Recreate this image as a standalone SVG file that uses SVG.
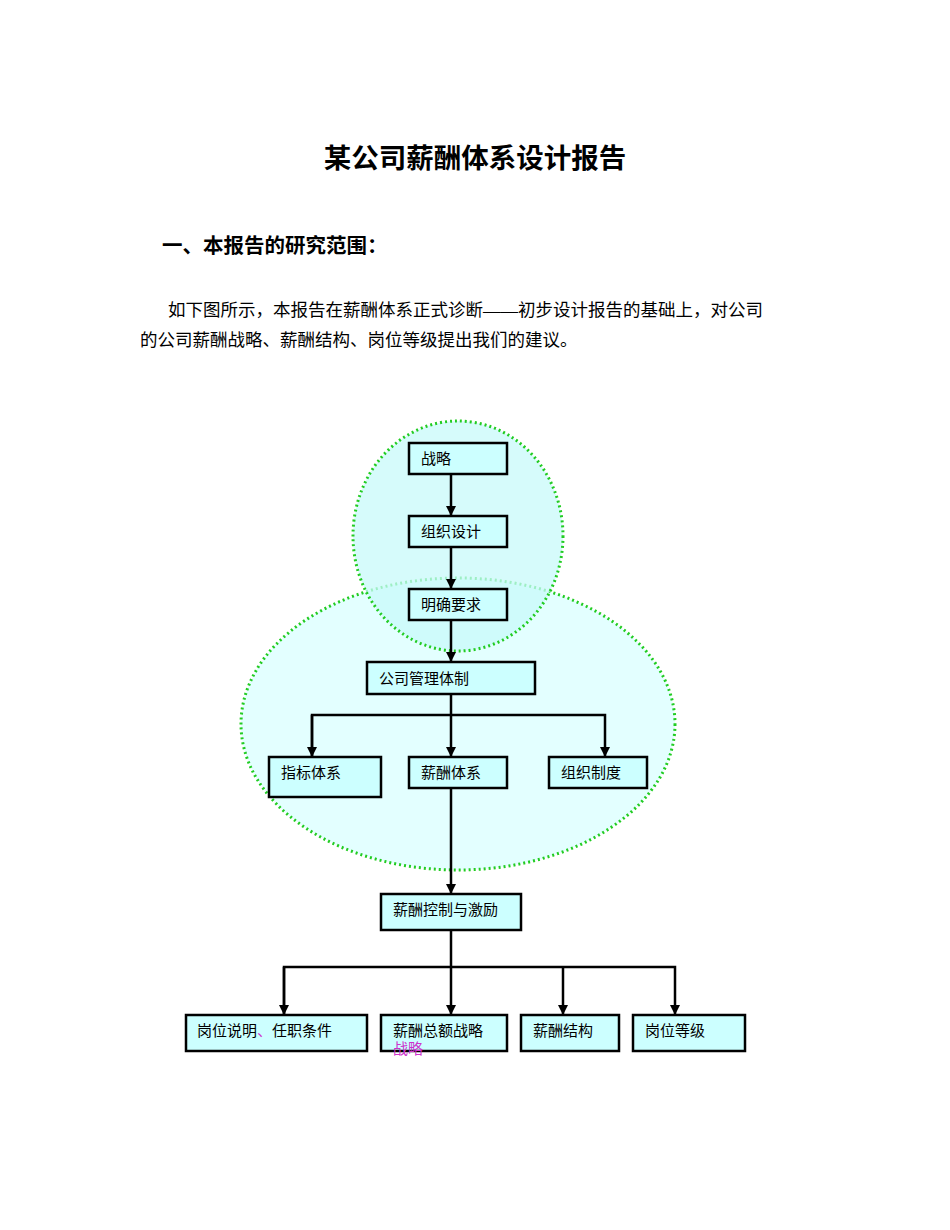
<svg xmlns="http://www.w3.org/2000/svg" width="950" height="1230" viewBox="0 0 950 1230">
<style>
text{font-family:"Liberation Serif","Noto Sans CJK SC",serif;fill:#000}
.b rect{fill:#ccffff;stroke:#000;stroke-width:2.5}
.b text{font-size:15px}
.c line,.c polyline{stroke:#000;stroke-width:2.5;fill:none}
.zone{stroke:#22cc22;stroke-width:3;stroke-dasharray:2 3}
</style>
<defs><marker id="a" viewBox="0 0 10 10" refX="9" refY="5" markerWidth="4" markerHeight="4" orient="auto"><path d="M0,0L10,5L0,10z" fill="#000"/></marker></defs>
<rect width="950" height="1230" fill="#fff"/>
<text x="475" y="168" font-size="27.5" font-weight="bold" text-anchor="middle">某公司薪酬体系设计报告</text>
<text x="162" y="253" font-size="20.5" font-weight="bold">一、本报告的研究范围：</text>
<text x="168" y="316" font-size="17.5">如下图所示，本报告在薪酬体系正式诊断——初步设计报告的基础上，对公司</text>
<text x="140" y="346" font-size="17.5">的公司薪酬战略、薪酬结构、岗位等级提出我们的建议。</text>
<ellipse class="zone" cx="458" cy="724" rx="217" ry="146" fill="#e3ffff"/>
<ellipse class="zone" cx="458" cy="536" rx="105" ry="115" fill="#c8fafa" fill-opacity="0.75"/>
<g class="c">
<line x1="451" y1="474" x2="451" y2="515" marker-end="url(#a)"/>
<line x1="451" y1="547" x2="451" y2="588" marker-end="url(#a)"/>
<line x1="451" y1="620" x2="451" y2="661" marker-end="url(#a)"/>
<line x1="451" y1="694" x2="451" y2="756" marker-end="url(#a)"/>
<polyline points="312,756 312,715 605,715 605,756" marker-end="url(#a)"/>
<line x1="312" y1="715" x2="312" y2="756" marker-end="url(#a)"/>
<line x1="451" y1="788" x2="451" y2="893" marker-end="url(#a)"/>
<line x1="451" y1="930" x2="451" y2="1014" marker-end="url(#a)"/>
<polyline points="284,1014 284,967 675,967 675,1014" marker-end="url(#a)"/>
<line x1="284" y1="967" x2="284" y2="1014" marker-end="url(#a)"/>
<line x1="563" y1="967" x2="563" y2="1014" marker-end="url(#a)"/>
</g>
<g class="b">
<g id="n1"><rect x="409" y="443" width="98" height="31"/><text x="421" y="464">战略</text></g>
<g id="n2"><rect x="409" y="516" width="98" height="31"/><text x="421" y="537">组织设计</text></g>
<g id="n3"><rect x="409" y="589" width="98" height="31"/><text x="421" y="610">明确要求</text></g>
<g id="n4"><rect x="367" y="662" width="168" height="32"/><text x="379" y="684">公司管理体制</text></g>
<g id="n5"><rect x="269" y="757" width="112" height="40"/><text x="281" y="778">指标体系</text></g>
<g id="n6"><rect x="409" y="757" width="98" height="31"/><text x="421" y="778">薪酬体系</text></g>
<g id="n7"><rect x="549" y="757" width="98" height="31"/><text x="561" y="778">组织制度</text></g>
<g id="n8"><rect x="381" y="894" width="140" height="36"/><text x="393" y="915">薪酬控制与激励</text></g>
<g id="n9"><rect x="186" y="1015" width="181" height="36"/><text x="197" y="1036">岗位说明<tspan fill="#cc33cc">、</tspan>任职条件</text></g>
<g id="n10"><rect x="381" y="1015" width="126" height="36"/><text x="393" y="1036">薪酬总额战略</text><text x="393" y="1054" style="fill:#cc33cc">战略</text></g>
<g id="n11"><rect x="521" y="1015" width="98" height="36"/><text x="533" y="1036">薪酬结构</text></g>
<g id="n12"><rect x="633" y="1015" width="112" height="36"/><text x="645" y="1036">岗位等级</text></g>
</g>
</svg>
